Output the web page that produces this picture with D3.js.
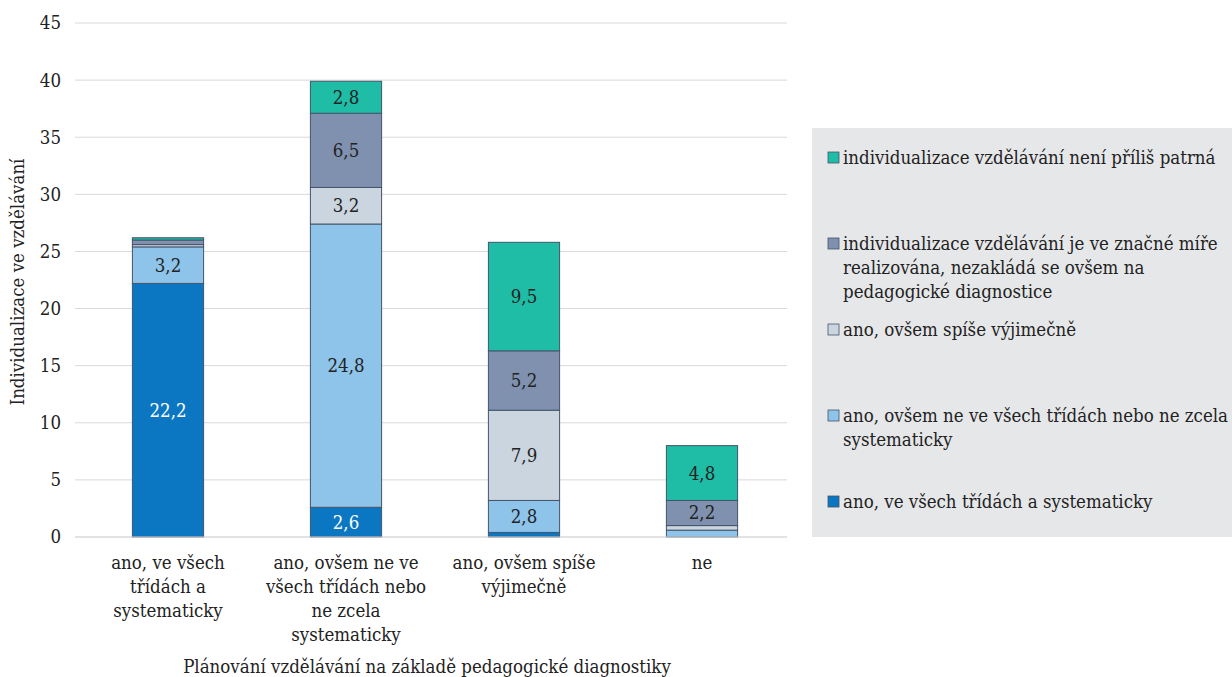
<!DOCTYPE html>
<html>
<head>
<meta charset="utf-8">
<script src="https://cdn.jsdelivr.net/npm/d3@7"></script>
<style>
  body { margin: 0; background: #fff; }
  svg text { font-family: "DejaVu Serif Condensed", "DejaVu Serif"; font-stretch: condensed; }
</style>
</head>
<body>
<div id="chart"></div>
<script>
// Categories (x axis), one label line per array entry
var categories = ["A", "B", "C", "D"];
var categoryLines = [
    ["ano, ve všech", "třídách a", "systematicky"],
    ["ano, ovšem ne ve", "všech třídách nebo", "ne zcela", "systematicky"],
    ["ano, ovšem spíše", "výjimečně"],
    ["ne"]
];

// Series, from bottom of the stack to the top
var seriesNames = [
    "ano, ve všech třídách a systematicky",
    "ano, ovšem ne ve všech třídách nebo ne zcela systematicky",
    "ano, ovšem spíše výjimečně",
    "individualizace vzdělávání je ve značné míře realizována, nezakládá se ovšem na pedagogické diagnostice",
    "individualizace vzdělávání není příliš patrná"
];
var s1 = [22.2, 2.6, 0.4, 0];
var s2 = [3.2, 24.8, 2.8, 0.6];
var s3 = [0.2, 3.2, 7.9, 0.4];
var s4 = [0.4, 6.5, 5.2, 2.2];
var s5 = [0.2, 2.8, 9.5, 4.8];
var seriesValues = [s1, s2, s3, s4, s5];
var colors = ["#0B77C2", "#8EC3EA", "#CBD5DF", "#7F91AE", "#1FBCA6"];

var yTicks = [0, 5, 10, 15, 20, 25, 30, 35, 40, 45];

// legend text, wrapped like the original (top to bottom)
var legendLines = [
    ["individualizace vzdělávání není příliš patrná"],
    ["individualizace vzdělávání je ve značné míře", "realizována, nezakládá se ovšem na", "pedagogické diagnostice"],
    ["ano, ovšem spíše výjimečně"],
    ["ano, ovšem ne ve všech třídách nebo ne zcela", "systematicky"],
    ["ano, ve všech třídách a systematicky"]
];

var FS = 18.5;
var W = 1232, H = 677;
var margin = { top: 23, left: 75 },
    width = 787 - margin.left,
    height = 537 - margin.top;

var svg = d3.select("#chart").append("svg")
    .attr("width", W)
    .attr("height", H);

var g = svg.append("g")
    .attr("transform", "translate(" + margin.left + "," + margin.top + ")");

var x = d3.scaleBand().domain(categories).range([4, width + 4]).paddingInner(0.6).paddingOuter(0.3);
var y = d3.scaleLinear().domain([0, 45]).range([height, 0]);

// grid
g.selectAll(".grid").data(yTicks).enter().append("line")
    .attr("x1", 0).attr("x2", width)
    .attr("y1", function (d) { return y(d); })
    .attr("y2", function (d) { return y(d); })
    .attr("stroke", "#D9D9D9").attr("stroke-width", 1);

// y tick labels
g.selectAll(".ytick").data(yTicks).enter().append("text")
    .attr("x", -14)
    .attr("y", function (d) { return y(d); })
    .attr("dy", "0.35em")
    .attr("text-anchor", "end")
    .attr("font-size", FS)
    .attr("fill", "#222")
    .text(function (d) { return d; });

// stacked data
var table = categories.map(function (c, i) {
    var row = { cat: c };
    seriesNames.forEach(function (s, k) { row["s" + k] = seriesValues[k][i]; });
    return row;
});
var keys = seriesNames.map(function (s, k) { return "s" + k; });
var stacked = d3.stack().keys(keys)(table);

var layers = g.selectAll(".layer").data(stacked).enter().append("g")
    .attr("fill", function (d, k) { return colors[k]; });

layers.selectAll("rect").data(function (d) { return d; }).enter().append("rect")
    .filter(function (d) { return d[1] - d[0] > 0; })
    .attr("x", function (d) { return x(d.data.cat); })
    .attr("width", x.bandwidth())
    .attr("y", function (d) { return y(d[1]); })
    .attr("height", function (d) { return y(d[0]) - y(d[1]); })
    .attr("stroke", "#44546A")
    .attr("stroke-width", 1);

// value labels
stacked.forEach(function (layer, k) {
    layer.forEach(function (d) {
        var v = d[1] - d[0];
        if (v < 1.5) return;
        g.append("text")
            .attr("x", x(d.data.cat) + x.bandwidth() / 2)
            .attr("y", y((d[0] + d[1]) / 2))
            .attr("dy", "0.35em")
            .attr("text-anchor", "middle")
            .attr("font-size", FS)
            .attr("fill", k === 0 ? "#fff" : "#222")
            .text(d3.format(".1f")(v).replace(".", ","));
    });
});

// x axis line
g.append("line")
    .attr("x1", 0).attr("x2", width)
    .attr("y1", height).attr("y2", height)
    .attr("stroke", "#D9D9D9");

// category labels
categories.forEach(function (c, i) {
    var t = g.append("text")
        .attr("text-anchor", "middle")
        .attr("font-size", FS)
        .attr("fill", "#222");
    categoryLines[i].forEach(function (line, j) {
        t.append("tspan")
            .attr("x", x(c) + x.bandwidth() / 2)
            .attr("y", height + 32 + j * 24)
            .text(line);
    });
});

// axis titles
g.append("text")
    .attr("x", width / 2 - 4)
    .attr("y", height + 136)
    .attr("text-anchor", "middle")
    .attr("font-size", FS)
    .attr("fill", "#222")
    .text("Plánování vzdělávání na základě pedagogické diagnostiky");

svg.append("text")
    .attr("transform", "translate(24," + (margin.top + height / 2 + 2) + ") rotate(-90)")
    .attr("text-anchor", "middle")
    .attr("font-size", FS)
    .attr("fill", "#222")
    .text("Individualizace ve vzdělávání");

// legend
var lg = svg.append("g");
lg.append("rect")
    .attr("x", 812).attr("y", 128)
    .attr("width", W - 812).attr("height", 409)
    .attr("fill", "#E6E7E9");

var legendTop = [158, 244, 330, 416, 502];
legendLines.forEach(function (lines, i) {
    var k = seriesNames.length - 1 - i;
    lg.append("rect")
        .attr("x", 828).attr("y", legendTop[i] - 6)
        .attr("width", 11).attr("height", 11)
        .attr("fill", colors[k])
        .attr("stroke", "#44546A").attr("stroke-width", 0.8);
    var t = lg.append("text")
        .attr("font-size", FS)
        .attr("fill", "#222");
    lines.forEach(function (line, j) {
        t.append("tspan")
            .attr("x", 843)
            .attr("y", legendTop[i] + j * 24)
            .attr("dy", "0.35em")
            .text(line);
    });
});
</script>
</body>
</html>
